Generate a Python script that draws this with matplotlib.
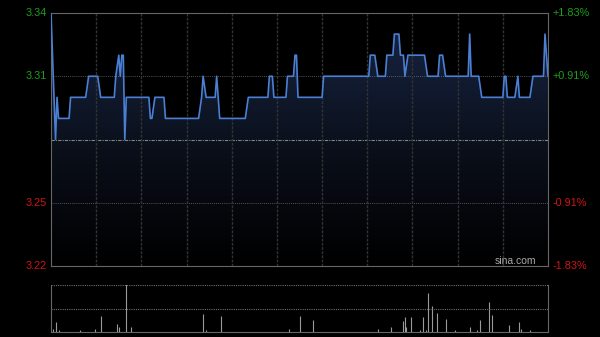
import numpy as np
import matplotlib
matplotlib.use('Agg')
import matplotlib.pyplot as plt
from matplotlib.colors import LinearSegmentedColormap

# minutes since 9:30 (lunch break removed, 330 trading minutes) and price
times = [0, 3, 4, 5, 12, 13, 23, 25, 31, 33, 42, 43, 45, 46, 47, 48, 49, 50,
         65, 66, 67, 69, 75, 76, 98, 100, 101, 103, 109, 110, 112, 129, 131,
         144, 145, 147, 148, 156, 157, 161, 162, 163, 164, 180, 181, 211, 212,
         215, 217, 222, 223, 227, 228, 231, 232, 234, 235, 237, 248, 250, 257,
         258, 260, 262, 277, 278, 279, 284, 286, 300, 301, 302, 303, 308, 310,
         311, 318, 320, 327, 328, 330]
prices = [3.34, 3.28, 3.30, 3.29, 3.29, 3.30, 3.30, 3.31, 3.31, 3.30, 3.30,
          3.31, 3.32, 3.31, 3.32, 3.32, 3.28, 3.30, 3.30, 3.29, 3.29, 3.30,
          3.30, 3.29, 3.29, 3.30, 3.31, 3.30, 3.30, 3.31, 3.29, 3.29, 3.30,
          3.30, 3.31, 3.31, 3.30, 3.30, 3.31, 3.31, 3.32, 3.32, 3.30, 3.30,
          3.31, 3.31, 3.32, 3.32, 3.31, 3.31, 3.32, 3.32, 3.33, 3.33, 3.32,
          3.32, 3.31, 3.32, 3.32, 3.31, 3.31, 3.32, 3.32, 3.31, 3.31, 3.33,
          3.31, 3.31, 3.30, 3.30, 3.31, 3.31, 3.30, 3.30, 3.31, 3.30, 3.30,
          3.31, 3.31, 3.33, 3.31]

vol_times = [1, 3, 5, 19, 29, 33, 44, 45, 50, 53, 101, 103, 113, 158, 165, 174,
             217, 226, 234, 235, 236, 239, 245, 247, 249, 250, 253, 256, 262,
             268, 278, 283, 285, 291, 293, 304, 311, 312, 318]
volumes = [7, 21, 5, 4, 7, 35, 17, 11, 120, 11, 38, 5, 34, 7, 34, 25,
           7, 11, 24, 31, 11, 31, 5, 31, 5, 83, 55, 41, 27,
           4, 11, 4, 25, 63, 36, 15, 21, 7, 5]

prev_close = 3.28
left_ticks = [3.34, 3.31, 3.25, 3.22]
left_labels = ['3.34', '3.31', '3.25', '3.22']
right_labels = ['+1.83%', '+0.91%', '-0.91%', '-1.83%']
tick_colors = ['#1aa01a', '#1aa01a', '#d01414', '#d01414']

plt.rcParams['font.family'] = ['Liberation Sans', 'DejaVu Sans']

fig = plt.figure(figsize=(6, 3.37), dpi=100, facecolor='black')
ax = fig.add_axes([51/600, 1-266/337, 497/600, 253/337], facecolor='black')
ax.set_xlim(0, 330)
ax.set_ylim(3.22, 3.34)

# gradient fill under the price line
poly = ax.fill_between(times, prices, 3.22, color='none', lw=0)
grad = np.linspace(0, 1, 256).reshape(-1, 1)
cmap = LinearSegmentedColormap.from_list('g', ['#000000', '#0a0f1a', '#16233f'])
im = ax.imshow(grad, extent=[0, 330, 3.22, 3.33], origin='lower',
               aspect='auto', cmap=cmap, zorder=1)
im.set_clip_path(poly.get_paths()[0], transform=ax.transData)

# grid
for y in [3.31, 3.25]:
    ax.axhline(y, color='#6e6e6e', lw=0.6, ls=(0, (1, 1.5)), zorder=2)
ax.axhline(prev_close, color='#858585', lw=0.8, ls=(0, (3, 1, 1, 1)), zorder=2)
for x in range(30, 330, 30):
    ax.axvline(x, color='#333333', lw=1.0, ls=(0, (2, 1)), zorder=2)

ax.plot(times, prices, color='#4a7fd4', lw=1.2, zorder=3)

for s in ax.spines.values():
    s.set_color('#666666')
ax.set_xticks([])
ax.set_yticks([])

for v, lab, rl, c in zip(left_ticks, left_labels, right_labels, tick_colors):
    ax.text(-3, v, lab, color=c, fontsize=7.8, ha='right', va='center')
    ax.text(333, v, rl, color=c, fontsize=7.8, ha='left', va='center')

ax.text(322, 3.2225, 'sina.com', color='#aaaaaa', fontsize=7.5,
        ha='right', va='center')

# volume panel
axv = fig.add_axes([51/600, 1-332/337, 497/600, 47/337], facecolor='black')
axv.set_xlim(0, 330)
axv.set_ylim(0, 100)
axv.vlines(vol_times, 0, volumes, color='#9a9a9a', lw=0.8)
axv.axhline(100, color='#6e6e6e', lw=0.8, ls=(0, (1, 1)))
axv.axhline(50, color='#6e6e6e', lw=0.8, ls=(0, (1, 1)))
axv.spines['top'].set_visible(False)
for k in ['left', 'right', 'bottom']:
    axv.spines[k].set_color('#666666')
axv.set_xticks([])
axv.set_yticks([])

fig.savefig('out.png', dpi=100, facecolor='black')
